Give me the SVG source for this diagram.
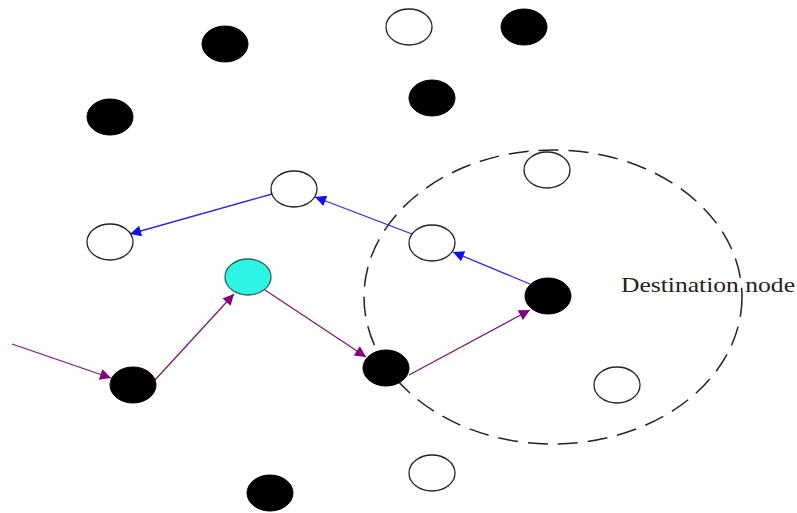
<svg xmlns="http://www.w3.org/2000/svg" width="797" height="513" viewBox="0 0 797 513">
<style>
.b{fill:#000;stroke:#000;stroke-width:1}
.w{fill:#fff;stroke:#222;stroke-width:1.3}
.c{fill:#2ef5e5;stroke:#2a6a50;stroke-width:1.3}
.p{stroke:#7a1a7a;stroke-width:1.3;fill:none}
.u{stroke:#2a2ae0;stroke-width:1.3;fill:none}
.lbl{font-family:"Liberation Serif","Times New Roman",serif;font-size:22px;fill:#222}
</style>
<defs>
<marker id="ap" viewBox="0 0 10 10" refX="10" refY="5" markerWidth="16" markerHeight="11" markerUnits="userSpaceOnUse" orient="auto"><path d="M0,0 L10,5 L0,10 z" fill="#800080"/></marker>
<marker id="au" viewBox="0 0 10 10" refX="10" refY="5" markerWidth="16" markerHeight="11" markerUnits="userSpaceOnUse" orient="auto"><path d="M0,0 L10,5 L0,10 z" fill="#1010f0"/></marker>
</defs>
<ellipse cx="553" cy="297" rx="189" ry="147" fill="none" stroke="#222" stroke-width="1.5" stroke-dasharray="20,10"/>
<g id="connectors">
<line class="p" x1="12" y1="344" x2="111" y2="378" marker-end="url(#ap)"/>
<line class="p" x1="155" y1="380" x2="234" y2="294" marker-end="url(#ap)"/>
<line class="p" x1="265" y1="290" x2="366" y2="357" marker-end="url(#ap)"/>
<line class="p" x1="409" y1="375" x2="530" y2="310" marker-end="url(#ap)"/>
<line class="u" x1="530" y1="284" x2="453" y2="252" marker-end="url(#au)"/>
<line class="u" x1="412" y1="234" x2="315" y2="197" marker-end="url(#au)"/>
<line class="u" x1="272" y1="194" x2="130" y2="234" marker-end="url(#au)"/>
</g>
<g id="n1"><ellipse class="b" cx="225" cy="44" rx="23" ry="18"/></g>
<g id="n2"><ellipse class="w" cx="409" cy="27" rx="23" ry="18"/></g>
<g id="n3"><ellipse class="b" cx="524" cy="27" rx="23" ry="18"/></g>
<g id="n4"><ellipse class="b" cx="432" cy="98" rx="23" ry="18"/></g>
<g id="n5"><ellipse class="b" cx="110" cy="117" rx="23" ry="18"/></g>
<g id="n6"><ellipse class="w" cx="547" cy="170" rx="23" ry="18"/></g>
<g id="n7"><ellipse class="w" cx="294" cy="189" rx="23" ry="18"/></g>
<g id="n8"><ellipse class="w" cx="110" cy="242" rx="23" ry="18"/></g>
<g id="n9"><ellipse class="w" cx="432" cy="243" rx="23" ry="18"/></g>
<g id="n10"><ellipse class="c" cx="248" cy="277" rx="23" ry="18"/></g>
<g id="n11"><ellipse class="b" cx="548" cy="296" rx="23" ry="18"/></g>
<g id="n12"><ellipse class="b" cx="133" cy="385" rx="23" ry="18"/></g>
<g id="n13"><ellipse class="b" cx="386" cy="368" rx="23" ry="18"/></g>
<g id="n14"><ellipse class="w" cx="617" cy="385" rx="23" ry="18"/></g>
<g id="n15"><ellipse class="w" cx="432" cy="473" rx="23" ry="18"/></g>
<g id="n16"><ellipse class="b" cx="270" cy="493" rx="23" ry="18"/></g>
<g id="label"><text class="lbl" x="621" y="292" textLength="174" lengthAdjust="spacingAndGlyphs">Destination node</text></g>
</svg>
